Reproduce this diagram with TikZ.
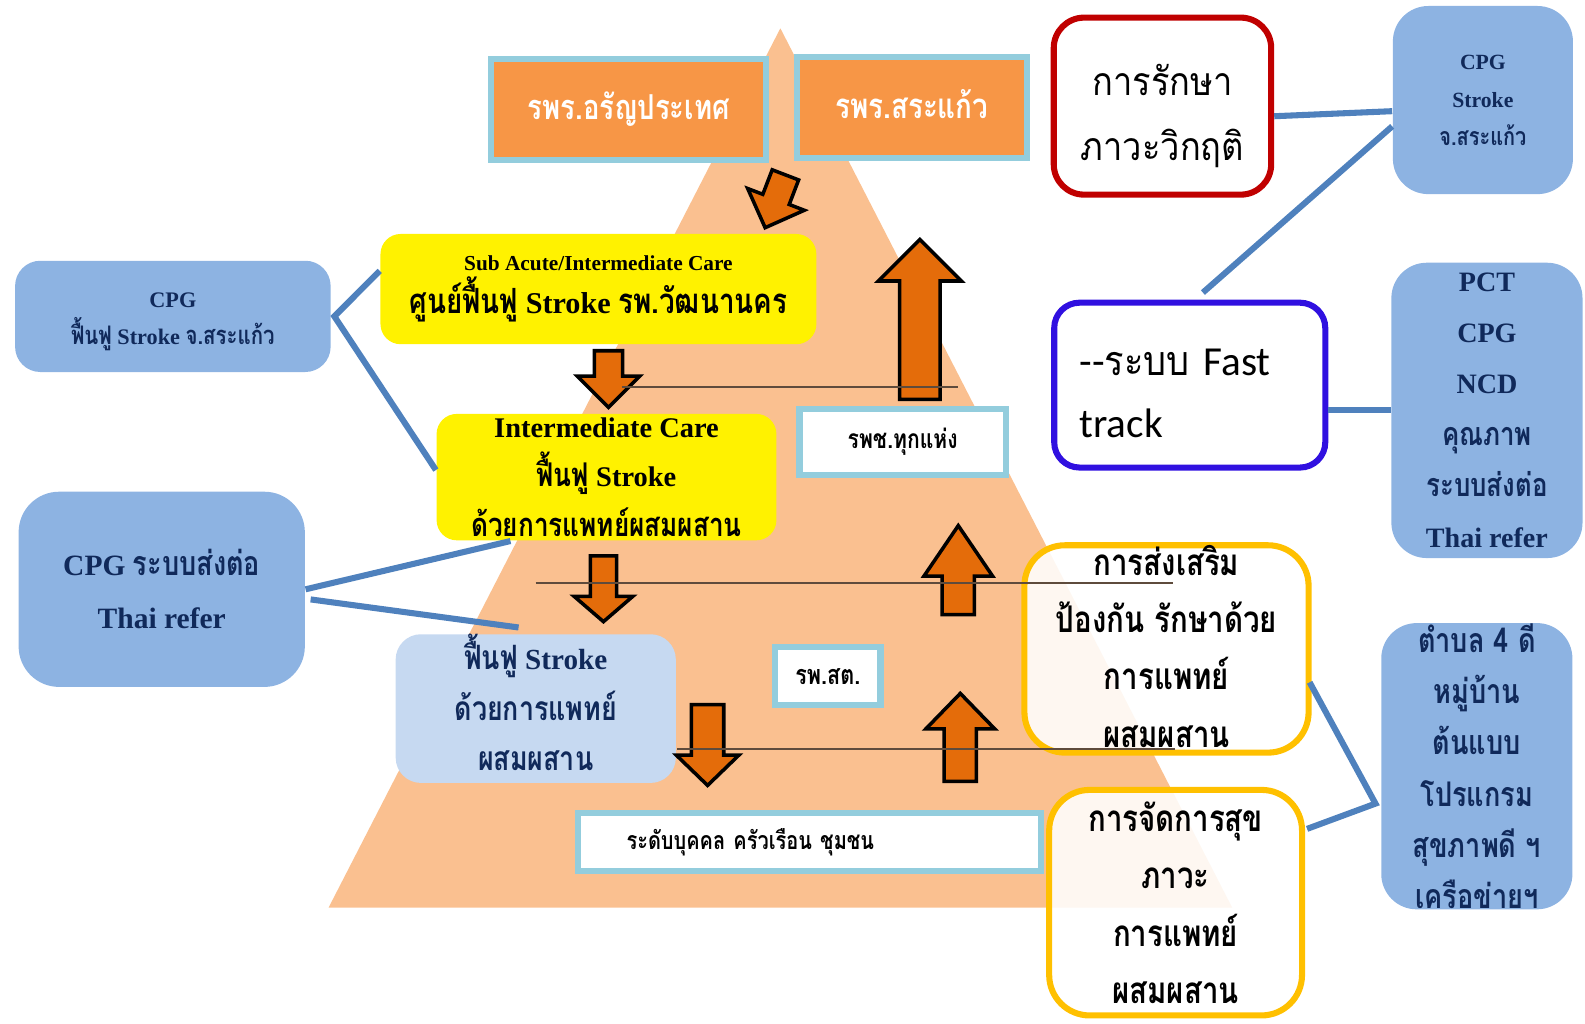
\documentclass[tikz,border=0pt]{standalone}
\usepackage{fontspec}
\setmainfont{Liberation Serif}
\newfontfamily\thai[Script=Thai,FakeStretch=0.8,Scale=1.15]{Loma}
\newfontfamily\thsans[Script=Thai,FakeStretch=0.88]{Loma}
\newfontfamily\calib{Carlito}
\usetikzlibrary{calc}
\definecolor{peach}{HTML}{FAC090}
\definecolor{orbox}{HTML}{F79646}
\definecolor{skyrim}{HTML}{93CDDD}
\definecolor{arrowor}{HTML}{E46C0A}
\definecolor{steel}{HTML}{4F81BD}
\definecolor{cpgblue}{HTML}{8DB3E2}
\definecolor{paleblue}{HTML}{C6D9F1}
\definecolor{navy}{HTML}{10295A}
\definecolor{gold}{HTML}{FFC000}
\definecolor{crimson}{HTML}{C00000}
\definecolor{violetblue}{HTML}{3010E0}
\definecolor{sepline}{HTML}{5E4B3C}
\def\T#1{{\thai #1}}
\def\fs#1#2{\fontsize{#1}{#2}\selectfont}
\def\blockarrow(#1)(#2:#3:#4:#5:#6){\draw[blockarr,shift={(#1)},rotate=#2] (0,-#5) -- ({#3-#4},-#5) -- ({#3-#4},-#6) -- (#3,0) -- ({#3-#4},#6) -- ({#3-#4},#5) -- (0,#5) -- cycle;}

\begin{document}
\begin{tikzpicture}[x=0.01cm,y=-0.01cm,
	tierbox/.style={draw=skyrim, line width=0.06cm, fill=white, inner sep=0pt},
	hospbox/.style={draw=skyrim, line width=0.06cm, fill=orbox, text=white, inner sep=0pt},
	yelbox/.style={fill=yellow, rounded corners=0.2cm, inner sep=0pt, align=center},
	cpgbox/.style={fill=cpgblue, rounded corners=0.35cm, text=navy, inner sep=0pt, align=center},
	goldbox/.style={draw=gold, line width=0.06cm, fill=white, fill opacity=0.88, text opacity=1, rounded corners=0.4cm, inner sep=0pt, align=center},
	link/.style={draw=steel, line width=0.06cm},
	blockarr/.style={fill=arrowor, draw=black, line width=0.035cm, line join=miter},
	tierline/.style={draw=sepline, line width=0.015cm}]
			%%%%% START %%%%%
			\useasboundingbox (0,0) rectangle (1568,1013);
			
			% pyramid
			\fill[peach] (772,28) -- (1219,898) -- (325,898) -- cycle;
			
			% top hospitals
			\node[hospbox, minimum width=2.72cm, minimum height=1cm, font=\thai\bfseries\fs{8.4}{14}] (arany) at (622,108) {รพร.อรัญประเทศ};
			\node[hospbox, minimum width=2.27cm, minimum height=1cm, font=\thai\bfseries\fs{8.5}{14}] (sakaeo) at (902,106) {รพร.สระแก้ว\rule[-2pt]{0pt}{0pt}};
			
			% care levels
			\node[yelbox, minimum width=4.31cm, minimum height=1.09cm, font=\bfseries\fs{8.5}{12.2}] (subacute) at (592,286) {{\fs{6}{7}Sub Acute/Intermediate Care}\\\T{ศูนย์ฟื้นฟู} Stroke \T{รพ.วัฒนานคร}};
			\node[yelbox, minimum width=3.36cm, minimum height=1.25cm, font=\bfseries\fs{8}{14}] (inter) at (600,472) {Intermediate Care\\\T{ฟื้นฟู} Stroke\\\T{ด้วยการแพทย์ผสมผสาน}};
			\node[fill=paleblue, rounded corners=0.25cm, inner sep=0pt, align=center, text=navy, minimum width=2.77cm, minimum height=1.47cm, font=\bfseries\fs{8.2}{14.2}] (rehab) at (530,701) {\T{ฟื้นฟู} Stroke\\\T{ด้วยการแพทย์}\\\T{ผสมผสาน}\rule[-3.4pt]{0pt}{0pt}};
			
			\node[tierbox, minimum width=2.04cm, minimum height=0.65cm, font=\thai\bfseries\fs{6.45}{9}] (rpch) at (893,437) {รพช.ทุกแห่ง};
			\node[tierbox, minimum width=1.04cm, minimum height=0.57cm, font=\thai\bfseries\fs{6.6}{9}] (rpsot) at (819,669) {รพ.สต.};
			\node[tierbox, minimum width=4.58cm, minimum height=0.57cm, text width=3.62cm, align=left, font=\thai\bfseries\fs{6.1}{9}] (comm) at (801,833) {ระดับบุคคล ครัวเรือน ชุมชน};
			
			% right side
			\node[goldbox, minimum width=2.81cm, minimum height=2.05cm, font=\thai\bfseries\fs{9}{16.1}] (promo) at (1154,642) {การส่งเสริม\\ป้องกัน รักษาด้วย\\การแพทย์\\ผสมผสาน\rule[-1.5pt]{0pt}{0pt}};
			\node[goldbox, minimum width=2.5cm, minimum height=2.23cm, font=\thai\bfseries\fs{9}{16.1}] (manage) at (1163,893) {การจัดการสุข\\ภาวะ\\การแพทย์\\ผสมผสาน};
			\node[draw=crimson, line width=0.06cm, fill=white, rounded corners=0.3cm, inner sep=0pt, align=center, minimum width=2.15cm, minimum height=1.75cm, font=\thsans\fs{11}{17.9}] (crit) at (1150,105) {\rule{0pt}{14.5pt}การรักษา\\[0.5pt]ภาวะวิกฤติ};
			\node[draw=violetblue, line width=0.06cm, fill=white, rounded corners=0.25cm, inner sep=0pt, minimum width=2.68cm, minimum height=1.63cm, text width=2.18cm, align=left, font=\calib\fs{11.6}{17.4}] (fast) at (1177,381) {\rule{0pt}{12pt}-{}-{\thsans ระบบ} Fast\\track};
			
			\node[cpgbox, minimum width=1.78cm, minimum height=1.86cm, font=\bfseries\fs{6.1}{10.7}] (cpgR) at (1467,99) {CPG\\Stroke\\\T{จ.สระแก้ว}};
			\node[cpgbox, minimum width=1.89cm, minimum height=2.92cm, font=\bfseries\fs{7.9}{14.4}] (pct) at (1471,406) {PCT\\CPG\\NCD\\\T{คุณภาพ}\\\T{ระบบส่งต่อ}\\Thai refer};
			\node[cpgbox, minimum width=1.89cm, minimum height=2.83cm, font=\thai\bfseries\fs{8.3}{14.4}] (tambon) at (1461,758) {ตำบล 4 ดี\\หมู่บ้าน\\ต้นแบบ\\โปรแกรม\\สุขภาพดี ฯ\\เครือข่ายฯ};
			
			% left side
			\node[cpgbox, rounded corners=0.25cm, minimum width=3.12cm, minimum height=1.1cm, font=\bfseries\fs{6.25}{10.5}] (cpgL) at (171,313) {\rule{0pt}{7pt}CPG\\\T{ฟื้นฟู} Stroke \T{จ.สระแก้ว}};
			\node[cpgbox, rounded corners=0.4cm, minimum width=2.83cm, minimum height=1.93cm, font=\bfseries\fs{8.3}{15}] (cpgT) at (160,583) {CPG \T{ระบบส่งต่อ}\\Thai refer};
			
			% arrows
			\blockarrow(777,173)(-111:56:30:14:30)
			\blockarrow(602,347)(-90:56:31:14:31)
			\blockarrow(910,395)(90:158:41:20:41)
			\blockarrow(597,550)(-90:65:25:13:29)
			\blockarrow(948,608)(90:88:50:16:34)
			\blockarrow(700,697)(-90:80:30:16:31)
			\blockarrow(950,773)(90:87:35:16:34)
			
			% level lines
			\draw[tierline] (615,383) -- (948,383);
			\draw[tierline] (530,577) -- (1160,577);
			\draw[tierline] (670,741) -- (1162,741);
			
			% links
			\draw[link] ($(crit.east)+(0,10)$) -- ($(cpgR.west)+(0,11)$);
			\draw[link] ($(fast.north)+(13,-7)$) -- ($(cpgR.west)+(0,26)$);
			\draw[link] ($(fast.east)+(0,25)$) -- (pct.west);
			\draw[link] ($(promo.east)+(-2,33)$) -- ($(tambon.west)+(-5,37)$) -- ($(manage.east)+(2,-73)$);
			\draw[link] ($(subacute.west)+(0,-18)$) -- ($(cpgL.east)+(3,0)$) -- ($(inter.west)+(0,-7)$);
			\draw[link] ($(inter.south)+(-95,0)$) -- (cpgT.east);
			\draw[link] ($(cpgT.east)+(5,10)$) -- ($(rehab.north)+(-17,-6)$);
			
			%%%%% END %%%%%
\end{tikzpicture}
\end{document}
